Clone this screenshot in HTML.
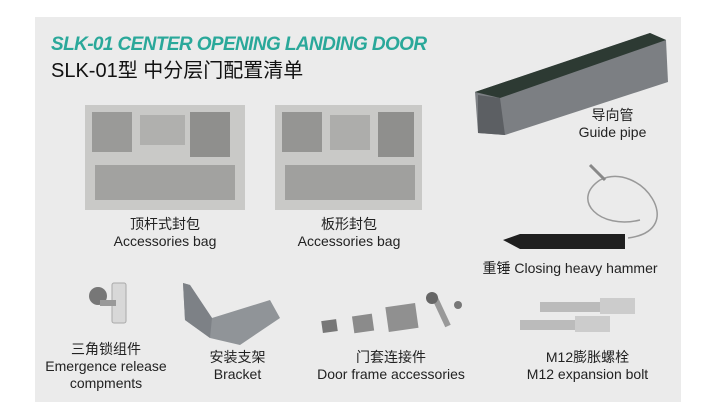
<!DOCTYPE html>
<html><head><meta charset="utf-8"><style>
body{margin:0;width:717px;height:418px;background:#fff;position:relative;overflow:hidden;font-family:"Liberation Sans","Noto Sans CJK SC",sans-serif;color:#222}
.panel{position:absolute;left:35px;top:17px;width:646px;height:385px;background:#ebebeb}
.t{position:absolute;white-space:nowrap;text-align:center;font-size:14px;line-height:17px}
svg{position:absolute;left:0;top:0}
</style></head><body>
<div class="panel"></div>
<div class="t" style="left:51px;top:36px;font-size:19px;font-weight:bold;font-style:italic;color:#2aa89a;text-align:left;letter-spacing:-0.6px">SLK-01 CENTER OPENING LANDING DOOR</div>
<div class="t" style="left:51px;top:59px;font-size:20px;line-height:24px;text-align:left;color:#111">SLK-01型 中分层门配置清单</div>
<svg width="717" height="418">
 <rect x="85" y="105" width="160" height="105" fill="#c9c9c7"/>
 <rect x="92" y="112" width="40" height="40" fill="#9a9a98"/><rect x="140" y="115" width="45" height="30" fill="#b0b0ae"/><rect x="190" y="112" width="40" height="45" fill="#8f8f8d"/>
 <rect x="95" y="165" width="140" height="35" fill="#a2a2a0"/>
 <rect x="275" y="105" width="147" height="105" fill="#c9c9c7"/>
 <rect x="282" y="112" width="40" height="40" fill="#959593"/><rect x="330" y="115" width="40" height="35" fill="#adadab"/><rect x="378" y="112" width="36" height="45" fill="#8f8f8d"/>
 <rect x="285" y="165" width="130" height="35" fill="#a0a09e"/>
 <!-- guide pipe -->
 <polygon points="475,92 650,33 666,40 668,82 505,135 478,133" fill="#7c7f83"/>
 <polygon points="475,92 650,33 666,40 500,98" fill="#2d3a33"/>
 <polygon points="478,95 500,98 505,135 478,133" fill="#5c5f63"/>
 <!-- hammer -->
 <path d="M628,238 C690,230 640,160 600,180 C570,200 600,230 640,220" fill="none" stroke="#999" stroke-width="1.5"/>
 <line x1="590" y1="165" x2="605" y2="180" stroke="#888" stroke-width="3"/>
 <polygon points="503,240 520,234 625,234 625,249 520,249" fill="#1f1f1f"/>
 <rect x="112" y="283" width="14" height="40" rx="2" fill="#d8d8d8" stroke="#aaa"/>
 <circle cx="98" cy="296" r="9" fill="#777"/><rect x="100" y="300" width="16" height="6" fill="#999"/>
 <polygon points="183,283 190,285 212,318 270,300 280,318 240,345 210,338 185,320" fill="#909498"/>
 <polygon points="183,283 190,285 212,318 210,338 185,320" fill="#7d8186"/>
 <rect x="322" y="320" width="15" height="12" fill="#777" transform="rotate(-8 330 326)"/>
 <rect x="353" y="315" width="20" height="17" fill="#8b8b8b" transform="rotate(-8 363 323)"/>
 <rect x="387" y="305" width="30" height="25" fill="#909090" transform="rotate(-8 402 318)"/>
 <line x1="434" y1="296" x2="448" y2="326" stroke="#999" stroke-width="6"/>
 <circle cx="432" cy="298" r="6" fill="#666"/><circle cx="458" cy="305" r="4" fill="#777"/>
 <rect x="540" y="302" width="70" height="10" fill="#bbb"/><rect x="600" y="298" width="35" height="16" fill="#ccc"/>
 <rect x="520" y="320" width="60" height="10" fill="#bbb"/><rect x="575" y="316" width="35" height="16" fill="#ccc"/>
</svg>
<div class="t" style="left:85px;top:216px;width:160px">顶杆式封包<br>Accessories bag</div>
<div class="t" style="left:274px;top:216px;width:150px">板形封包<br>Accessories bag</div>
<div class="t" style="left:560px;top:107px;width:105px">导向管<br>Guide pipe</div>
<div class="t" style="left:470px;top:260px;width:200px">重锤 Closing heavy hammer</div>
<div class="t" style="left:45px;top:341px;width:122px">三角锁组件<br>Emergence release<br>compments</div>
<div class="t" style="left:190px;top:349px;width:95px">安装支架<br>Bracket</div>
<div class="t" style="left:300px;top:349px;width:182px">门套连接件<br>Door frame accessories</div>
<div class="t" style="left:510px;top:349px;width:155px">M12膨胀螺栓<br>M12 expansion bolt</div>
</body></html>
